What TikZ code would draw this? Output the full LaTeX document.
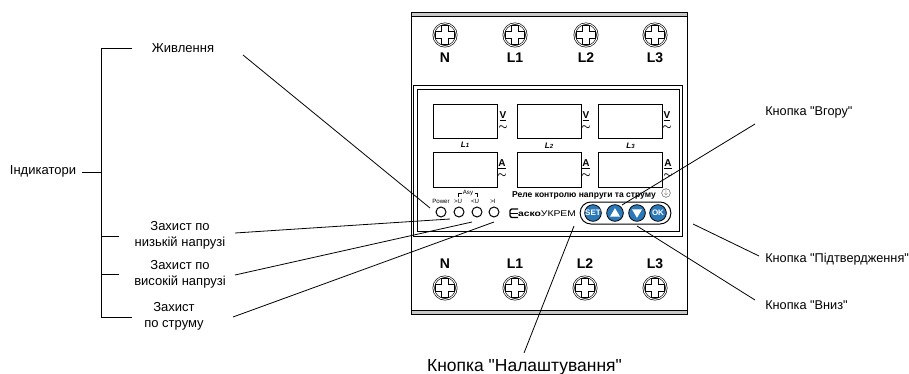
\documentclass[tikz,border=0pt]{standalone}
\usepackage{fontspec}
\setmainfont{Liberation Sans}[Ligatures=TeXOff]
\definecolor{keyblue}{HTML}{2A78B8}
\definecolor{bandgray}{HTML}{C8C8C8}

\tikzset{
  lab/.style={inner sep=0pt, align=center, font=\fontsize{9.75}{12}\selectfont},
  keylab/.style={inner sep=0pt, anchor=west, font=\fontsize{9.55}{12}\selectfont},
  leader/.style={draw, line width=0.6pt},
  term/.style={inner sep=0pt, font=\fontsize{10.5}{12}\selectfont\bfseries},
  display/.style={draw, line width=0.75pt, minimum width=48pt, minimum height=25.5pt, inner sep=0pt},
  phase/.style={inner sep=0pt, font=\fontsize{6}{7}\selectfont\bfseries\itshape},
  unit/.style={inner sep=0pt, font=\fontsize{7.5}{8}\selectfont\bfseries},
  wave/.style={inner sep=0pt, font=\fontsize{7}{6}\selectfont\boldmath},
  tiny/.style={inner sep=0pt, font=\fontsize{4.6}{5}\selectfont},
  led/.style={circle, draw, line width=0.75pt, minimum size=7.5pt, inner sep=0pt},
  key/.style={circle, draw, line width=0.6pt, fill=keyblue, minimum size=12.5pt, inner sep=0pt,
    text=white, font=\fontsize{6}{6}\selectfont\bfseries},
  screw/.style={circle, draw, double, double distance=0.7pt, line width=0.5pt,
    minimum size=17pt, inner sep=0pt,
    path picture={
      \draw[line width=0.5pt] ([shift={(-2.6pt,-7pt)}]path picture bounding box.center)
        -- ++(0,4.4pt) -- ++(-4.4pt,0) -- ++(0,5.2pt) -- ++(4.4pt,0) -- ++(0,4.4pt)
        -- ++(5.2pt,0) -- ++(0,-4.4pt) -- ++(4.4pt,0) -- ++(0,-5.2pt) -- ++(-4.4pt,0) -- ++(0,-4.4pt) -- cycle;
    }},
  upkey/.style={key, path picture={
      \fill[white] ([shift={(-3.8pt,-2.8pt)}]path picture bounding box.center)
        -- ++(7.6pt,0) -- ++(-3.8pt,6.4pt) -- cycle;}},
  downkey/.style={key, path picture={
      \fill[white] ([shift={(-3.8pt,2.8pt)}]path picture bounding box.center)
        -- ++(7.6pt,0) -- ++(-3.8pt,-6.4pt) -- cycle;}},
}

\begin{document}
\begin{tikzpicture}[x=0.75pt, y=-0.75pt]
    \useasboundingbox (0,0) rectangle (909,374);

    % Housing
    \draw[line width=0.75pt] (411,13) rectangle (687,314);
    \draw[line width=0.75pt, fill=bandgray] (411,13) rectangle (687,17);
    \draw[line width=0.75pt, fill=bandgray] (411,310) rectangle (687,314);
    \draw[line width=0.75pt, fill=white] (413.5,86) rectangle (682,236);
    \draw[line width=0.75pt] (417,89.5) rectangle (679,231);

    % Terminals
    \node[screw] (s-n)  at (445,35) {};
    \node[screw] (s-l1) at (515,35) {};
    \node[screw] (s-l2) at (586,35) {};
    \node[screw] (s-l3) at (655,35) {};
    \node[term] (t-n)  at (445,58) {N};
    \node[term] (t-l1) at (515,58) {L1};
    \node[term] (t-l2) at (586,58) {L2};
    \node[term] (t-l3) at (655,58) {L3};
    \node[term] (b-n)  at (445,264) {N};
    \node[term] (b-l1) at (515,264) {L1};
    \node[term] (b-l2) at (585,264) {L2};
    \node[term] (b-l3) at (655,264) {L3};
    \node[screw] (r-n)  at (445,288) {};
    \node[screw] (r-l1) at (515,288) {};
    \node[screw] (r-l2) at (585,288) {};
    \node[screw] (r-l3) at (655,288) {};

    % Displays
    \node[display] (v1) at (465,122) {};
    \node[display] (v2) at (549,122) {};
    \node[display] (v3) at (630.5,122) {};
    \node[display] (a1) at (465,170) {};
    \node[display] (a2) at (549,170) {};
    \node[display] (a3) at (630.5,170) {};
    \node[unit] (u-v1) at (503,119.5) {\underline{\smash{V}}};
    \node[unit] (u-v2) at (586,119.5) {\underline{\smash{V}}};
    \node[unit] (u-v3) at (667,119.5) {\underline{\smash{V}}};
    \node[unit] (u-a1) at (502,168) {\underline{\smash{A}}};
    \node[unit] (u-a2) at (586,168) {\underline{\smash{A}}};
    \node[unit] (u-a3) at (668,168) {\underline{\smash{A}}};
    \node[wave] (w-v1) at (503,127.5) {$\sim$};
    \node[wave] (w-v2) at (586,127.5) {$\sim$};
    \node[wave] (w-v3) at (667,127.5) {$\sim$};
    \node[wave] (w-a1) at (502,175.5) {$\sim$};
    \node[wave] (w-a2) at (586,175.5) {$\sim$};
    \node[wave] (w-a3) at (668,175.5) {$\sim$};
    \node[phase] (p1) at (465,145) {L\fontsize{4.5}{5}\selectfont 1};
    \node[phase] (p2) at (549,146) {L\fontsize{4.5}{5}\selectfont 2};
    \node[phase] (p3) at (630.5,146) {L\fontsize{4.5}{5}\selectfont 3};

    % Indicators
    \node[led] (led-p) at (441,212) {};
    \node[led] (led-o) at (459,212) {};
    \node[led] (led-u) at (477,212) {};
    \node[led] (led-i) at (494,212) {};
    \node[tiny] (n-p) at (441,201.5) {Power};
    \node[tiny] (n-o) at (458,201.5) {>U};
    \node[tiny] (n-u) at (475,201.5) {<U};
    \node[tiny] (n-i) at (493,201.5) {>I};
    \node[tiny] (n-a) at (468,193.5) {Asy};
    \draw[line width=0.4pt] (458.5,196.5) -- (458.5,193.5) -- (461.5,193.5);
    \draw[line width=0.4pt] (474.5,193.5) -- (477.5,193.5) -- (477.5,196.5);

    % Title and logo
    \node[inner sep=0pt, font=\fontsize{6.4}{7}\selectfont\bfseries] (title) at (584,195) {Реле контролю напруги та струму};
    \node[circle, draw=black!60, line width=0.4pt, minimum size=6.5pt, inner sep=0pt,
      font=\fontsize{5}{5}\selectfont, text=black!60] (earth) at (666,193) {$\downarrow$};
    \draw[line width=1pt, rounded corners=1.5pt] (518,209) -- (510,209) -- (510,217.5) -- (518,217.5);
    \draw[line width=1pt] (510,213.2) -- (518,213.2);
    \node[inner sep=0pt, font=\fontsize{6.2}{7}\selectfont] (logo) at (547,213.5)
      {\addfontfeature{FakeStretch=1.25}\textbf{аско}УКРЕМ};

    % Keys
    \node[draw, line width=0.75pt, rounded corners=8pt, minimum width=68pt, minimum height=16.5pt, inner sep=0pt] (pad) at (625.5,213) {};
    \node[key]     (k-set)  at (593,213) {SET};
    \node[upkey]   (k-up)   at (615,213) {};
    \node[downkey] (k-down) at (637,213) {};
    \node[key]     (k-ok)   at (658,213) {OK};

    % Labels
    \node[lab] (ind)  at (43,171)  {Індикатори};
    \node[lab] (feed) at (183,48)  {Живлення};
    \node[lab] (low)  at (180,235) {Захист по\\низькій напрузі};
    \node[lab] (high) at (180,274) {Захист по\\високій напрузі};
    \node[lab] (cur)  at (174,316) {Захист\\по струму};
    \node[keylab] (l-up)   at (765,112) {Кнопка "Вгору"};
    \node[keylab] (l-ok)   at (765,259) {Кнопка "Підтвердження"};
    \node[keylab] (l-down) at (765,305) {Кнопка "Вниз"};
    \node[lab, font=\fontsize{13.1}{15}\selectfont] (l-set) at (524.5,367) {Кнопка "Налаштування"};

    % Free ends
    \coordinate (br-top) at (101,49);
    \coordinate (br-bot) at (101,317);
    \coordinate (br-in)  at (82,172);
    \coordinate (br-mid) at (101,172);
    \coordinate (br-a)   at (132,49);
    \coordinate (br-b1)  at (101,236);
    \coordinate (br-b2)  at (119,236);
    \coordinate (br-c1)  at (101,274);
    \coordinate (br-c2)  at (119,274);
    \coordinate (br-d)   at (132,317);
    \coordinate (e-feed) at (243,55);
    \coordinate (e-led)  at (430,208);
    \coordinate (e-low)  at (235,233);
    \coordinate (e-o)    at (450,219);
    \coordinate (e-high) at (235,275);
    \coordinate (e-u)    at (472,222);
    \coordinate (e-cur)  at (233,317);
    \coordinate (e-i)    at (494,222);
    \coordinate (e-up)   at (755,124);
    \coordinate (e-kup)  at (622,205);
    \coordinate (e-ok)   at (759,256);
    \coordinate (e-pad)  at (693,224);
    \coordinate (e-down) at (755,300);
    \coordinate (e-kdn)  at (637,226);
    \coordinate (e-set)  at (524,353);
    \coordinate (e-kset) at (574,226);

    % Connect the nodes
    \draw[line width=0.75pt] (br-a) -- (br-top) -- (br-bot) -- (br-d);
    \draw[line width=0.75pt] (br-in) -- (br-mid);
    \draw[line width=0.75pt] (br-b1) -- (br-b2);
    \draw[line width=0.75pt] (br-c1) -- (br-c2);
    \draw[leader] (e-feed) -- (e-led);
    \draw[leader] (e-low) -- (e-o);
    \draw[leader] (e-high) -- (e-u);
    \draw[leader] (e-cur) -- (e-i);
    \draw[leader] (e-up) -- (e-kup);
    \draw[leader] (e-ok) -- (e-pad);
    \draw[leader] (e-down) -- (e-kdn);
    \draw[leader] (e-set) -- (e-kset);

\end{tikzpicture}
\end{document}
